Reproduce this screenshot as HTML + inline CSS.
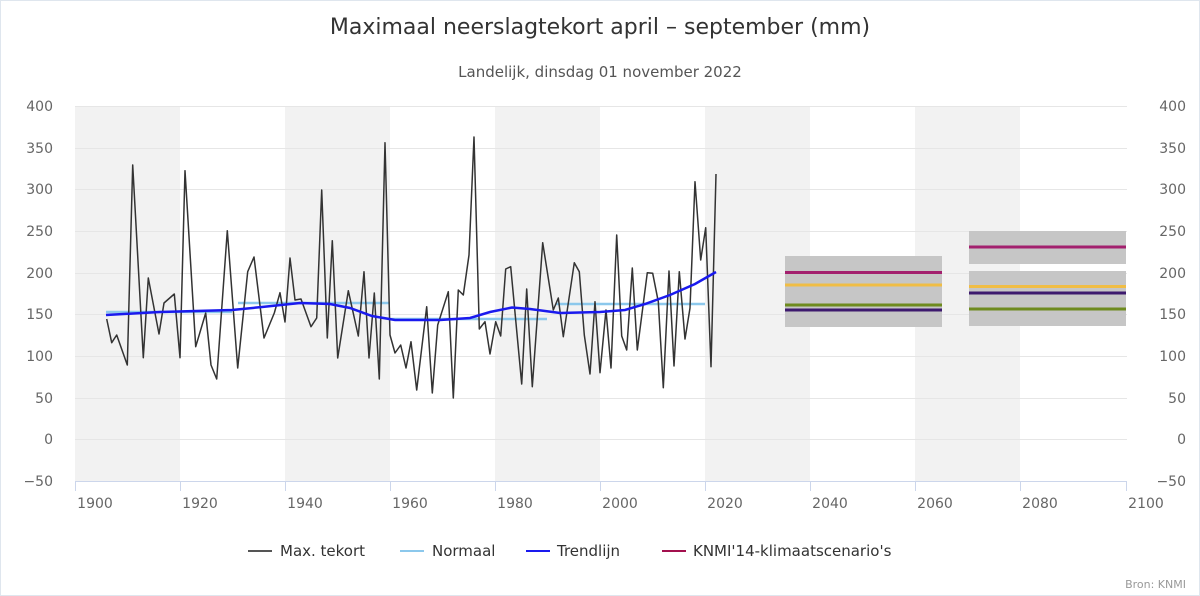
<!DOCTYPE html>
<html><head><meta charset="utf-8"><style>
body{margin:0;background:#fff;}
svg{display:block;font-family:"DejaVu Sans","Liberation Sans",sans-serif;}
</style></head><body>
<svg width="1200" height="596" viewBox="0 0 1200 596" xmlns="http://www.w3.org/2000/svg">
<rect x="0.5" y="0.5" width="1199" height="595" fill="#fff" stroke="#dfe6ee"/>
<text x="600" y="34" text-anchor="middle" font-size="22" fill="#333">Maximaal neerslagtekort april – september (mm)</text>
<text x="600" y="77" text-anchor="middle" font-size="15" fill="#555">Landelijk, dinsdag 01 november 2022</text>
<g fill="#f2f2f2">
<rect x="75" y="106" width="105" height="375"/>
<rect x="285" y="106" width="105" height="375"/>
<rect x="495" y="106" width="105" height="375"/>
<rect x="705" y="106" width="105" height="375"/>
<rect x="915" y="106" width="105" height="375"/>
</g>
<g stroke="#e6e6e6" stroke-width="1">
<line x1="75" x2="1127" y1="106.5" y2="106.5"/><line x1="75" x2="1127" y1="148.5" y2="148.5"/>
<line x1="75" x2="1127" y1="189.5" y2="189.5"/><line x1="75" x2="1127" y1="231.5" y2="231.5"/>
<line x1="75" x2="1127" y1="273.5" y2="273.5"/><line x1="75" x2="1127" y1="314.5" y2="314.5"/>
<line x1="75" x2="1127" y1="356.5" y2="356.5"/><line x1="75" x2="1127" y1="398.5" y2="398.5"/>
<line x1="75" x2="1127" y1="439.5" y2="439.5"/>
</g>
<line x1="75" x2="1127" y1="481.5" y2="481.5" stroke="#ccd6eb"/>
<g stroke="#ccd6eb"><line x1="75.5" x2="75.5" y1="481" y2="491"/><line x1="180.5" x2="180.5" y1="481" y2="491"/><line x1="285.5" x2="285.5" y1="481" y2="491"/><line x1="390.5" x2="390.5" y1="481" y2="491"/><line x1="495.5" x2="495.5" y1="481" y2="491"/><line x1="600.5" x2="600.5" y1="481" y2="491"/><line x1="705.5" x2="705.5" y1="481" y2="491"/><line x1="810.5" x2="810.5" y1="481" y2="491"/><line x1="915.5" x2="915.5" y1="481" y2="491"/><line x1="1020.5" x2="1020.5" y1="481" y2="491"/><line x1="1126.5" x2="1126.5" y1="481" y2="491"/></g>
<g font-size="14" fill="#666" text-anchor="end">
<text x="53" y="111">400</text><text x="53" y="153">350</text><text x="53" y="194">300</text><text x="53" y="236">250</text><text x="53" y="278">200</text><text x="53" y="319">150</text><text x="53" y="361">100</text><text x="53" y="403">50</text><text x="53" y="444">0</text><text x="53" y="486">−50</text>
</g>
<g font-size="14" fill="#666" text-anchor="end">
<text x="1186" y="111">400</text><text x="1186" y="153">350</text><text x="1186" y="194">300</text><text x="1186" y="236">250</text><text x="1186" y="278">200</text><text x="1186" y="319">150</text><text x="1186" y="361">100</text><text x="1186" y="403">50</text><text x="1186" y="444">0</text><text x="1186" y="486">−50</text>
</g>
<g font-size="14" fill="#666" text-anchor="middle">
<text x="95" y="508">1900</text><text x="200" y="508">1920</text><text x="305" y="508">1940</text><text x="410" y="508">1960</text><text x="515" y="508">1980</text><text x="620" y="508">2000</text><text x="725" y="508">2020</text><text x="830" y="508">2040</text><text x="935" y="508">2060</text><text x="1040" y="508">2080</text><text x="1146" y="508">2100</text>
</g>
<!-- scenarios -->
<rect x="785" y="256" width="157" height="71" fill="#c6c6c6"/>
<rect x="969" y="231" width="157" height="33" fill="#c6c6c6"/>
<rect x="969" y="271" width="157" height="55" fill="#c6c6c6"/>
<g stroke-width="3">
<line x1="785" x2="942" y1="272.5" y2="272.5" stroke="#a3206e"/>
<line x1="785" x2="942" y1="285" y2="285" stroke="#f0bd45"/>
<line x1="785" x2="942" y1="305" y2="305" stroke="#6e8b1f"/>
<line x1="785" x2="942" y1="310" y2="310" stroke="#3d1a6e"/>
<line x1="969" x2="1126" y1="247" y2="247" stroke="#a3206e"/>
<line x1="969" x2="1126" y1="286.5" y2="286.5" stroke="#f0bd45"/>
<line x1="969" x2="1126" y1="293" y2="293" stroke="#3d1a6e"/>
<line x1="969" x2="1126" y1="309" y2="309" stroke="#6e8b1f"/>
</g>
<!-- normaal -->
<g stroke="#8cc8ec" stroke-width="2.5">
<line x1="106" x2="232" y1="312" y2="312"/>
<line x1="238" x2="390" y1="303" y2="303"/>
<line x1="390" x2="547" y1="319" y2="319"/>
<line x1="556" x2="705" y1="304" y2="304"/>
</g>
<!-- data -->
<polyline fill="none" stroke="#333" stroke-width="1.5" stroke-linejoin="round" points="106.7,319 111.7,342.7 116.7,335 127.3,365 132.7,165 143.3,357.7 148.3,278 159,334 164,303 174.3,294 180,357.7 185,170.7 195.7,346.7 205.7,313 211,365 216.7,379 227.3,230.7 237.7,368 247.7,271.7 254,257 264,338 274.3,313 280,292.7 285,322 290,258 295,300 301,299 311,326.7 316.7,318 321.7,190 327.3,338 332.3,240.7 337.7,358 348.3,290.7 358.3,336 364,271.7 369,358 374.3,293 379.3,379 385,142.7 390,335 395,353 400.7,345 406,368 411,341.7 416.7,390 426.7,306.7 432.3,393 437.7,325 448.3,291.7 453.3,398 458.3,290 463.3,295 469,255 474,137 479.3,329 485,321.7 490,354 495.7,321.7 500.7,336 505.7,269 510.7,266.7 521.7,384 526.7,289 532.3,386.7 542.7,242.7 553.3,310 558.3,298 563.3,336.7 574.3,262.7 579.3,271.7 584.3,335 590,374 595,301.7 600,372.7 606,310 611,368 616.7,235 621.7,336 626.7,350 632.3,268 637.3,350 647.3,272.7 652.7,273.3 658.3,301.7 663.3,387.7 669,271 674,366 679.3,271.7 685,339 690,308 695,181.7 700.7,260 705.7,227.7 711,366.7 716,174"/>
<!-- trend -->
<path fill="none" stroke="#1a1aee" stroke-width="2.5" d="M106,315 L160,312 L232,310 L262,307 L300,303 L330,304 L350,308 L372,316 L395,320 L440,320 L470,318 L490,312 L512,307.5 L530,309 L560,313 L600,312 L625,310 L645,304 L670,295 L695,284 L716,272"/>
<!-- legend -->
<g font-size="15" fill="#333">
<line x1="248" x2="272" y1="551" y2="551" stroke="#555" stroke-width="2"/><text x="280" y="556">Max. tekort</text>
<line x1="400" x2="424" y1="551" y2="551" stroke="#8cc8ec" stroke-width="2"/><text x="432" y="556">Normaal</text>
<line x1="526" x2="550" y1="551" y2="551" stroke="#1a1aee" stroke-width="2"/><text x="557" y="556">Trendlijn</text>
<line x1="662" x2="686" y1="551" y2="551" stroke="#a3104e" stroke-width="2"/><text x="693" y="556">KNMI'14-klimaatscenario's</text>
</g>
<text x="1186" y="588" text-anchor="end" font-size="11" fill="#999">Bron: KNMI</text>
</svg>
</body></html>
